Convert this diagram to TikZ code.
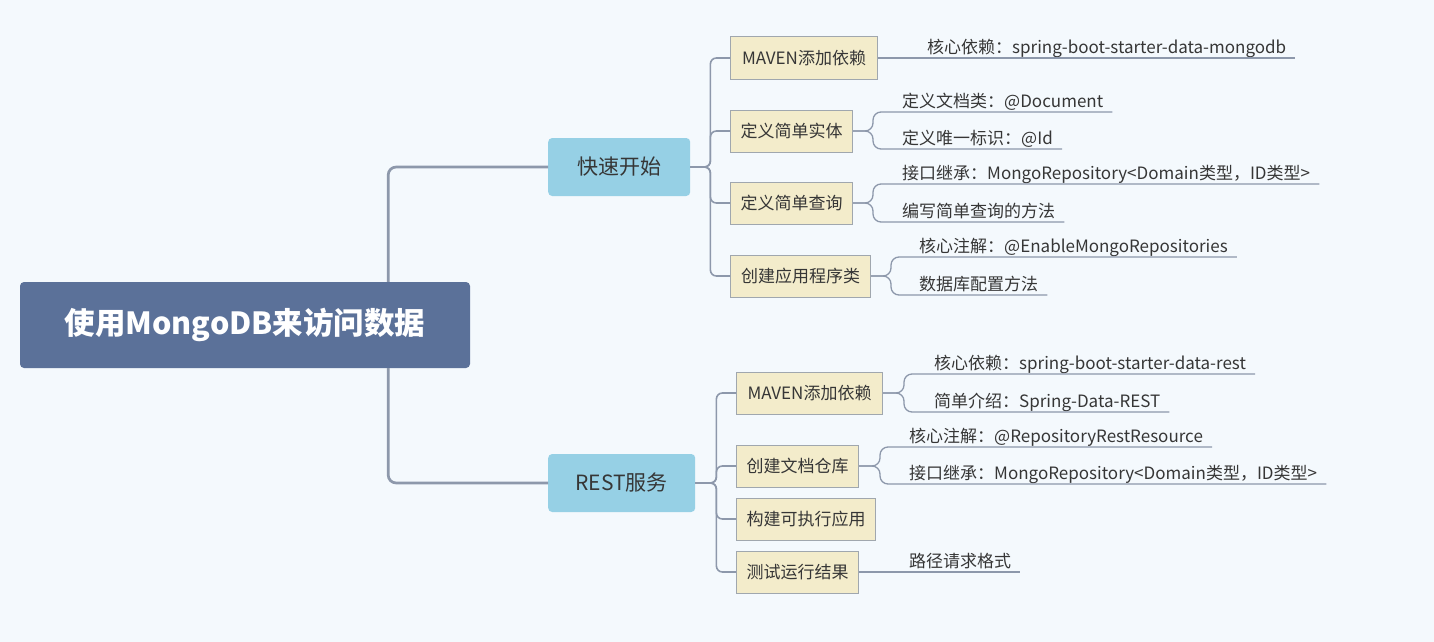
\documentclass[tikz,border=0pt]{standalone}
\usepackage{fontspec}
\setmainfont{Noto Sans CJK SC}
\definecolor{bgc}{HTML}{F4F9FD}
\definecolor{rootc}{HTML}{5B7199}
\definecolor{topc}{HTML}{96D0E5}
\definecolor{boxc}{HTML}{F3ECCB}
\definecolor{boxline}{HTML}{A0A7AE}
\definecolor{linec}{HTML}{8D98AB}
\definecolor{textc}{HTML}{363636}
\begin{document}
\begin{tikzpicture}[x=1pt, y=-1pt,
    rootbox/.style={fill=rootc, rounded corners=4pt, text=white, font=\fontsize{30.5}{34}\selectfont\bfseries, minimum width=450pt, minimum height=86pt},
    topicbox/.style={fill=topc, rounded corners=4pt, text=textc, font=\fontsize{21}{24}\selectfont, minimum height=58pt, anchor=west},
    itembox/.style={fill=boxc, draw=boxline, line width=1pt, text=textc, font=\fontsize{17}{20}\selectfont, minimum height=42pt, anchor=west},
    leaftext/.style={anchor=south west, inner xsep=0pt, inner ysep=0pt, text depth=4.5pt, text=textc, font=\fontsize{17}{20}\selectfont},
    trunkline/.style={draw=linec, line width=2.7pt, rounded corners=8pt},
    branchline/.style={draw=linec, line width=1.6pt, rounded corners=6pt},
    subline/.style={draw=linec, line width=1.3pt, rounded corners=8pt}]

    \fill[bgc] (0,0) rectangle (1434,642);

    % root and the two topics
    \node[rootbox] (root) at (245,325) {使用MongoDB来访问数据};
    \node[topicbox, minimum width=142pt] (quick) at (548,167) {快速开始};
    \node[topicbox, minimum width=147pt] (rest) at (548,483) {REST服务};

    \draw[trunkline] ([xshift=-82pt]root.north east) |- (quick.west);
    \draw[trunkline] ([xshift=-82pt]root.south east) |- (rest.west);

    % quick start
    \node[itembox, minimum width=147pt] (m1) at (730,58) {MAVEN添加依赖};
    \node[itembox, minimum width=122pt] (e1) at (730,131) {定义简单实体};
    \node[itembox, minimum width=122pt] (e2) at (730,203) {定义简单查询};
    \node[itembox, minimum width=140pt] (e3) at (730,276) {创建应用程序类};

    \foreach \n in {m1,e1,e2,e3}
    \draw[branchline] (quick.east) -- ++(20,0) |- (\n.west);

    \node[leaftext] (l1) at (927,58) {核心依赖：spring-boot-starter-data-mongodb};
    \node[leaftext] (l21) at (902,112) {定义文档类：@Document};
    \node[leaftext] (l22) at (902,149) {定义唯一标识：@Id};
    \node[leaftext] (l31) at (902,184) {接口继承：MongoRepository<Domain类型，ID类型>};
    \node[leaftext] (l32) at (902,222) {编写简单查询的方法};
    \node[leaftext] (l41) at (919,257) {核心注解：@EnableMongoRepositories};
    \node[leaftext] (l42) at (919,295) {数据库配置方法};

    \draw[subline] (m1.east) -- ([xshift=9pt]l1.south east);
    \foreach \n in {l21,l22}
    \draw[subline] (e1.east) -- ++(20,0) |- ([xshift=9pt]\n.south east);
    \foreach \n in {l31,l32}
    \draw[subline] (e2.east) -- ++(20,0) |- ([xshift=9pt]\n.south east);
    \foreach \n in {l41,l42}
    \draw[subline] (e3.east) -- ++(20,0) |- ([xshift=9pt]\n.south east);

    % rest service
    \node[itembox, minimum width=146pt] (b1) at (736,393) {MAVEN添加依赖};
    \node[itembox, minimum width=122pt] (b2) at (736,466) {创建文档仓库};
    \node[itembox, minimum width=139pt] (b3) at (736,519) {构建可执行应用};
    \node[itembox, minimum width=122pt] (b4) at (736,572) {测试运行结果};

    \foreach \n in {b1,b2,b3,b4}
    \draw[branchline] (rest.east) -- ++(21,0) |- (\n.west);

    \node[leaftext] (r11) at (934,374) {核心依赖：spring-boot-starter-data-rest};
    \node[leaftext] (r12) at (934,412) {简单介绍：Spring-Data-REST};
    \node[leaftext] (r21) at (909,447) {核心注解：@RepositoryRestResource};
    \node[leaftext] (r22) at (909,484) {接口继承：MongoRepository<Domain类型，ID类型>};
    \node[leaftext] (r4) at (909,572) {路径请求格式};

    \foreach \n in {r11,r12}
    \draw[subline] (b1.east) -- ++(21,0) |- ([xshift=9pt]\n.south east);
    \foreach \n in {r21,r22}
    \draw[subline] (b2.east) -- ++(21,0) |- ([xshift=9pt]\n.south east);
    \draw[subline] (b4.east) -- ([xshift=9pt]r4.south east);

\end{tikzpicture}
\end{document}
